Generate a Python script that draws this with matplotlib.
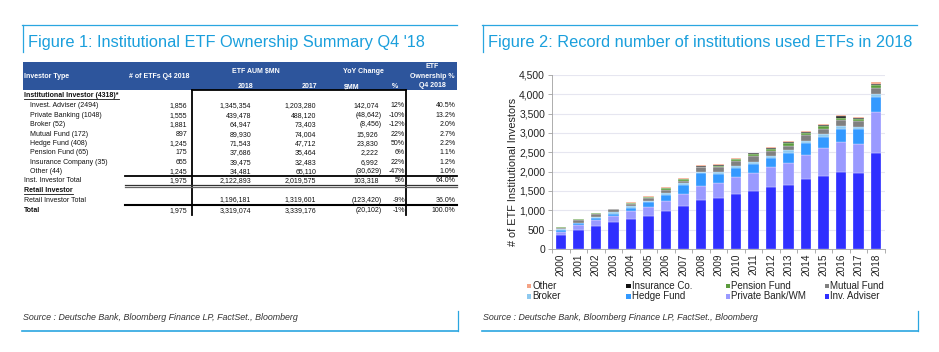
import matplotlib
matplotlib.use("Agg")
import matplotlib.pyplot as plt
from matplotlib.patches import Rectangle
import numpy as np

plt.rcParams["font.family"] = ["Liberation Sans", "DejaVu Sans"]

# ---- Figure 1 table data ----
row_labels = [
    "Invest. Adviser (2494)", "Private Banking (1048)", "Broker (52)",
    "Mutual Fund (172)", "Hedge Fund (408)", "Pension Fund (65)",
    "Insurance Company (35)", "Other (44)",
]
etf_counts = [1856, 1555, 1881, 897, 1245, 175, 655, 1245]
aum_2018 = [1345354, 439478, 64947, 89930, 71543, 37686, 39475, 34481]
aum_2017 = [1203280, 488120, 73403, 74004, 47712, 35464, 32483, 65110]
yoy_mm = [142074, -48642, -8456, 15926, 23830, 2222, 6992, -30629]
yoy_pct = [12, -10, -12, 22, 50, 6, 22, -47]
ownership = [40.5, 13.2, 2.0, 2.7, 2.2, 1.1, 1.2, 1.0]

total_labels = ["Inst. Investor Total", "Retail Investor Total", "Total"]
total_counts = [1975, None, 1975]
total_2018 = [2122893, 1196181, 3319074]
total_2017 = [2019575, 1319601, 3339176]
total_yoy = [103318, -123420, -20102]
total_pct = [5, -9, -1]
total_own = [64.0, 36.0, 100.0]

# ---- Figure 2 chart data ----
years = [str(y) for y in range(2000, 2019)]
inv_adviser = [350, 490, 600, 695, 780, 856, 983, 1119, 1279, 1331, 1426, 1495, 1607, 1659, 1806, 1892, 1987, 1970, 2480]
private_bank = [85, 120, 145, 160, 195, 230, 270, 313, 354, 371, 432, 458, 510, 561, 622, 717, 778, 752, 1062]
hedge_fund = [50, 50, 60, 60, 93, 118, 153, 221, 320, 242, 242, 250, 242, 268, 302, 294, 345, 371, 398]
broker = [20, 25, 25, 35, 32, 34, 42, 42, 43, 43, 43, 43, 43, 69, 69, 69, 70, 69, 69]
mutual_fund = [50, 75, 85, 75, 70, 76, 76, 68, 112, 138, 138, 156, 138, 113, 139, 138, 155, 147, 155]
pension_fund = [8, 5, 8, 8, 15, 25, 45, 35, 20, 30, 35, 45, 50, 60, 55, 60, 60, 55, 70]
insurance = [5, 3, 4, 5, 10, 15, 20, 20, 17, 15, 18, 25, 25, 35, 35, 35, 35, 35, 40]
other = [5, 2, 3, 4, 8, 10, 20, 12, 15, 16, 16, 16, 20, 26, 22, 26, 26, 22, 44]

series = [
    ("Inv. Adviser", inv_adviser, "#2f2fff"),
    ("Private Bank/WM", private_bank, "#9a9aff"),
    ("Hedge Fund", hedge_fund, "#3399ff"),
    ("Broker", broker, "#8ec9ef"),
    ("Mutual Fund", mutual_fund, "#808080"),
    ("Pension Fund", pension_fund, "#5b9b3d"),
    ("Insurance Co.", insurance, "#111111"),
    ("Other", other, "#f4a385"),
]
legend_order = ["Other", "Insurance Co.", "Pension Fund", "Mutual Fund",
                "Broker", "Hedge Fund", "Private Bank/WM", "Inv. Adviser"]

TITLE_BLUE = "#1a9fdc"
FRAME_BLUE = "#2aa6e0"
HEADER_BLUE = "#2d559c"


def fmt_num(v):
    if v is None:
        return ""
    if v < 0:
        return f"({-v:,})"
    return f"{v:,}"


fig = plt.figure(figsize=(9.39, 3.52), dpi=100)
bg = fig.add_axes([0, 0, 1, 1])
bg.set_xlim(0, 939)
bg.set_ylim(352, 0)
bg.axis("off")

# ---- panel frames and titles ----
for x0, x1, title in [(22, 457, "Figure 1: Institutional ETF Ownership Summary Q4 '18"),
                      (482, 917, "Figure 2: Record number of institutions used ETFs in 2018")]:
    bg.plot([x0, x1], [24.5, 24.5], color=FRAME_BLUE, lw=0.9)
    bg.plot([x0 + 0.5, x0 + 0.5], [24.5, 52], color=FRAME_BLUE, lw=0.9)
    bg.text(x0 + 6, 42.5, title, color=TITLE_BLUE, fontsize=11.8, va="center", ha="left")
    bg.plot([x0, x1 + 1], [331, 331], color=FRAME_BLUE, lw=1.2)
    bg.plot([x1 + 1, x1 + 1], [311, 331], color=FRAME_BLUE, lw=0.9)
    bg.text(x0 + 1, 317, "Source : Deutsche Bank, Bloomberg Finance LP, FactSet., Bloomberg",
            fontsize=6.4, style="italic", color="#333333", va="center", ha="left")

# ---- table header ----
bg.add_patch(Rectangle((23, 62), 434, 28, color=HEADER_BLUE, lw=0))
hdr = dict(color="white", fontsize=5.0, fontweight="bold", va="center")
bg.text(24, 76.7, "Investor Type", ha="left", **hdr)
bg.text(159, 76.7, "# of ETFs Q4 2018", ha="center", **hdr)
bg.text(256, 71.7, "ETF AUM $MN", ha="center", **hdr)
bg.text(246, 87, "2018", ha="center", **hdr)
bg.text(310, 87, "2017", ha="center", **hdr)
bg.text(363, 71.7, "YoY Change", ha="center", **hdr)
bg.text(352, 87, "$MM", ha="center", **hdr)
bg.text(395, 87, "%", ha="center", **hdr)
bg.text(432, 67, "ETF", ha="center", **hdr)
bg.text(432, 76.3, "Ownership %", ha="center", **hdr)
bg.text(432, 85.7, "Q4 2018", ha="center", **hdr)

body = dict(color="#111111", fontsize=5.0, va="center")


def table_row(y, label, indent, count, a18, a17, mm, pct, own, bold=False):
    kw = dict(body)
    if bold:
        kw["fontweight"] = "bold"
    bg.text(30 if indent else 24, y, label, ha="left", **kw)
    bg.text(187, y, fmt_num(count), ha="right", **body)
    bg.text(251, y, fmt_num(a18), ha="right", **body)
    bg.text(316, y, fmt_num(a17), ha="right", **body)
    bg.text(378.5 if mm >= 0 else 381.5, y, fmt_num(mm), ha="right", **body)
    bg.text(405, y, f"{pct}%", ha="right", **body)
    bg.text(455.5, y, f"{own:.1f}%", ha="right", **body)


renderer = fig.canvas.get_renderer()


def underlined(y, text):
    t = bg.text(24, y, text, ha="left", fontweight="bold", **body)
    bb = t.get_window_extent(renderer)
    bg.plot([24, 24 + bb.width], [y + 3.3, y + 3.3], color="#111111", lw=0.6)


underlined(95.7, "Institutional Investor (4318)*")
for i, lab in enumerate(row_labels):
    table_row(105.7 + i * 9.45, lab, True, etf_counts[i], aum_2018[i], aum_2017[i],
              yoy_mm[i], yoy_pct[i], ownership[i])
table_row(180.7, total_labels[0], False, total_counts[0], total_2018[0], total_2017[0],
          total_yoy[0], total_pct[0], total_own[0])
underlined(191, "Retail Investor")
table_row(200, total_labels[1], False, total_counts[1], total_2018[1], total_2017[1],
          total_yoy[1], total_pct[1], total_own[1])
table_row(210.3, total_labels[2], False, total_counts[2], total_2018[2], total_2017[2],
          total_yoy[2], total_pct[2], total_own[2], bold=True)

# table rules
bg.plot([191.7, 406], [90.3, 90.3], color="black", lw=1.3)
bg.plot([191.7, 191.7], [90, 215], color="black", lw=1.3)
bg.plot([406, 406], [90, 215], color="black", lw=1.3)
bg.plot([125, 457], [176, 176], color="black", lw=1.3)
bg.plot([125, 457], [184.6, 184.6], color="#333333", lw=0.9)
bg.plot([125, 457], [186.8, 186.8], color="#666666", lw=0.9)
bg.plot([125, 457], [204.8, 204.8], color="black", lw=1.5)

# ---- Figure 2 stacked bars ----
ax = fig.add_axes([552 / 939, 1 - 249 / 352, 333 / 939, 174 / 352])
x = np.arange(len(years))
bottom = np.zeros(len(years))
colors = {}
for name, vals, col in series:
    vals = np.array(vals, dtype=float)
    ax.bar(x, vals, 0.6, bottom=bottom, color=col, edgecolor="white", linewidth=0.2, zorder=3)
    bottom += vals
    colors[name] = col

ax.set_xlim(-0.5, len(years) - 0.5)
ax.set_ylim(0, 4500)
ax.set_yticks(np.arange(0, 4501, 500))
ax.set_yticklabels([f"{v:,}" for v in range(0, 4501, 500)], fontsize=7.5, color="#222222")
ax.set_xticks(x)
ax.set_xticklabels(years, rotation=90, fontsize=7.2, color="#222222")
ax.set_xticks(np.arange(-0.5, len(years), 1), minor=True)
ax.tick_params(axis="x", which="major", length=0, pad=3)
ax.tick_params(axis="x", which="minor", length=3, color="#a0a0a0", width=0.6)
ax.tick_params(axis="y", length=3, color="#a0a0a0", width=0.6, pad=2)
for s in ["top", "right"]:
    ax.spines[s].set_visible(False)
for s in ["left", "bottom"]:
    ax.spines[s].set_color("#a0a0a0")
    ax.spines[s].set_linewidth(0.6)
ax.grid(axis="y", color="#e6e6f0", lw=0.8, zorder=0)
ax.set_axisbelow(True)
ax.text(-0.118, 0.445, "# of ETF Institutional Investors", transform=ax.transAxes,
        rotation=90, ha="center", va="center", fontsize=7.8, color="#222222")

# ---- manual legend ----
for k, name in enumerate(legend_order):
    col_x = 527 + (k % 4) * 99.3
    row_y = 286 + (k // 4) * 10.3
    bg.add_patch(Rectangle((col_x, row_y - 2.2), 4.4, 4.4, color=colors[name], lw=0))
    bg.text(col_x + 5.5, row_y, name, fontsize=7, color="#222222", va="center", ha="left")

fig.savefig("out.png", dpi=100)
